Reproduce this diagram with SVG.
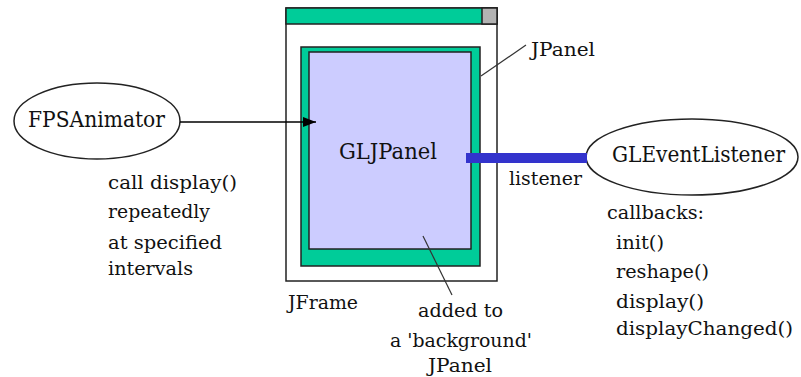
<svg xmlns="http://www.w3.org/2000/svg" width="801" height="377" viewBox="0 0 801 377" font-family="'DejaVu Serif', 'Liberation Serif', serif">
<style>
text{font-family:'DejaVu Serif','Liberation Serif',serif;fill:#111;}
.lbl{font-size:22px;}
.ann{font-size:18px;}
.oval{fill:#fff;stroke:#222;stroke-width:1.5;}
.lead{stroke:#333;stroke-width:1.2;fill:none;}
</style>
<defs>
<marker id="arr" markerWidth="13" markerHeight="10" refX="13" refY="5" orient="auto" markerUnits="userSpaceOnUse">
<path d="M0,0 L13,5 L0,10 Z" fill="#000"/>
</marker>
</defs>
<rect width="801" height="377" fill="#fff"/>
<g id="jframe">
<rect x="286" y="8" width="211" height="273" fill="#fff" stroke="#222" stroke-width="1.5"/>
<rect x="286" y="8" width="211" height="16" fill="#00CC99" stroke="#222" stroke-width="1.5"/>
<rect x="482" y="8" width="15" height="16" fill="#B3B3B3" stroke="#222" stroke-width="1.5"/>
<text class="ann" x="288" y="309" textLength="70" lengthAdjust="spacingAndGlyphs">JFrame</text>
</g>
<g id="jpanel">
<rect x="301" y="47" width="179" height="219" fill="#00CC99" stroke="#222" stroke-width="1.5"/>
<text class="ann" x="531" y="56" textLength="64" lengthAdjust="spacingAndGlyphs">JPanel</text>
</g>
<g id="gljpanel">
<rect x="309" y="52" width="162" height="197" fill="#CCCCFF" stroke="#222" stroke-width="1.5"/>
<text class="lbl" x="339" y="159" textLength="98" lengthAdjust="spacingAndGlyphs">GLJPanel</text>
</g>
<g id="fpsanimator">
<ellipse class="oval" cx="97" cy="121" rx="83" ry="38"/>
<text class="lbl" x="28" y="127" textLength="137" lengthAdjust="spacingAndGlyphs">FPSAnimator</text>
<text class="ann" x="108" y="189" textLength="129" lengthAdjust="spacingAndGlyphs">call display()</text>
<text class="ann" x="108" y="218" textLength="102" lengthAdjust="spacingAndGlyphs">repeatedly</text>
<text class="ann" x="108" y="249" textLength="114" lengthAdjust="spacingAndGlyphs">at specified</text>
<text class="ann" x="108" y="275" textLength="85" lengthAdjust="spacingAndGlyphs">intervals</text>
</g>
<g id="gleventlistener">
<ellipse class="oval" cx="692" cy="157" rx="106" ry="38"/>
<text class="lbl" x="612" y="162" textLength="173" lengthAdjust="spacingAndGlyphs">GLEventListener</text>
<text class="ann" x="607" y="219" textLength="97" lengthAdjust="spacingAndGlyphs">callbacks:</text>
<text class="ann" x="616" y="249" textLength="48" lengthAdjust="spacingAndGlyphs">init()</text>
<text class="ann" x="616" y="278" textLength="93" lengthAdjust="spacingAndGlyphs">reshape()</text>
<text class="ann" x="616" y="308" textLength="88" lengthAdjust="spacingAndGlyphs">display()</text>
<text class="ann" x="616" y="335" textLength="177" lengthAdjust="spacingAndGlyphs">displayChanged()</text>
</g>
<g id="bg-note">
<text class="ann" x="418" y="317" textLength="85" lengthAdjust="spacingAndGlyphs">added to</text>
<text class="ann" x="390" y="347" textLength="142" lengthAdjust="spacingAndGlyphs">a 'background'</text>
<text class="ann" x="428" y="372" textLength="64" lengthAdjust="spacingAndGlyphs">JPanel</text>
</g>
<g id="connectors">
<line x1="180" y1="122" x2="316" y2="122" stroke="#000" stroke-width="1.5" marker-end="url(#arr)"/>
<line x1="466" y1="158" x2="587" y2="158" stroke="#3333CC" stroke-width="10"/>
<text class="ann" x="509" y="185" textLength="73" lengthAdjust="spacingAndGlyphs">listener</text>
<line class="lead" x1="481" y1="76" x2="526" y2="45"/>
<line class="lead" x1="423" y1="236" x2="452" y2="295"/>
</g>
</svg>
